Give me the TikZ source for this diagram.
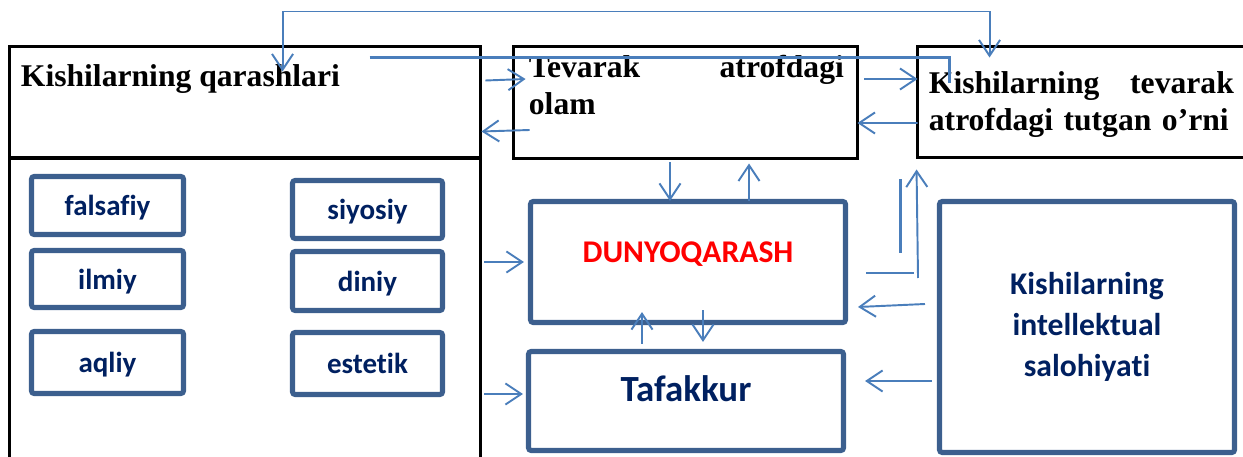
\documentclass[tikz,border=0pt]{standalone}
\usepackage{fontspec}
\setmainfont{Liberation Serif}
\newfontfamily\calibri[Ligatures=NoCommon]{Carlito}
\usetikzlibrary{arrows.meta,calc,positioning}

\definecolor{boxblue}{HTML}{3C5F8E}
\definecolor{linkblue}{HTML}{4A7EBB}
\definecolor{navy}{HTML}{002060}

\tikzset{
  >={Straight Barb[length=9pt,width=12pt]},
  frame/.style={draw=black, line width=1.7pt, inner sep=0pt},
  title/.style={inner sep=0pt, font=\bfseries\fontsize{18}{21}\selectfont, align=left},
  kind/.style={draw=boxblue, line width=2.9pt, rounded corners=1.5pt, inner sep=0pt,
    text=navy, font=\calibri\bfseries\fontsize{16.5}{20}\selectfont,
    text height=12.5pt, text depth=1pt},
  bluebox/.style={draw=boxblue, line width=2.9pt, rounded corners=1.5pt, inner sep=0pt,
    text=navy, font=\calibri\bfseries},
  link/.style={draw=linkblue, line width=1.1pt, ->},
  bar/.style={draw=linkblue, line width=1.6pt},
}

\begin{document}
\begin{tikzpicture}[x=0.02cm, y=-0.02cm]
		\useasboundingbox (0,0) rectangle (1243,456);
		\clip (0,0) rectangle (1243,456);
		
		% Black frames
		\node[frame, minimum width=9.44cm, minimum height=2.24cm] (qarash) at (245,102) {};
		\node[frame, minimum width=9.44cm, minimum height=6.84cm] (turlar) at (245,329) {};
		\node[frame, minimum width=6.9cm, minimum height=2.26cm] (olam) at (685.5,102.5) {};
		\node[frame, minimum width=7.26cm, minimum height=2.24cm] (orni) at (1098.5,102) {};
		
		% Frame titles
		\node[title, anchor=north west] (qarashtext) at ($(qarash.north west)+(13,20)$) {Kishilarning qarashlari};
		\node[title, anchor=north west, text width=6.3cm] (olamtext) at ($(olam.north west)+(17,10)$) {Tevarak\hfill atrofdagi\\olam};
		\node[title, anchor=north west, text width=6.1cm] (ornitext) at ($(orni.north west)+(13,27)$) {Kishilarning\hfill tevarak\\atrofdagi tutgan o’rni};
		
		% Kinds of views
		\node[kind, minimum width=3.04cm, minimum height=1.16cm] (falsafiy) at (107.5,205.5) {falsafiy};
		\node[kind, minimum width=3.04cm, minimum height=1.14cm] (ilmiy) at (107.5,279) {ilmiy};
		\node[kind, minimum width=3.04cm, minimum height=1.24cm] (aqliy) at (107.5,362.5) {aqliy};
		\node[kind, minimum width=3.0cm, minimum height=1.16cm] (siyosiy) at (367.5,209.5) {siyosiy};
		\node[kind, minimum width=3.0cm, minimum height=1.18cm] (diniy) at (367.5,281) {diniy};
		\node[kind, minimum width=3.0cm, minimum height=1.24cm] (estetik) at (367.5,363.5) {estetik};
		
		% Blue boxes
		\node[bluebox, minimum width=6.3cm, minimum height=2.42cm, text=red,
		      font=\calibri\bfseries\fontsize{18}{22}\selectfont, text height=12pt, text depth=12pt] (dunyo) at (688,262) {DUNYOQARASH};
		\node[bluebox, minimum width=6.3cm, minimum height=1.98cm,
		      font=\calibri\bfseries\fontsize{21}{25}\selectfont, text height=14pt, text depth=14pt] (tafakkur) at (686,401) {Tafakkur};
		\node[bluebox, minimum width=5.9cm, minimum height=5.02cm, align=center,
		      font=\calibri\bfseries\fontsize{18}{23.3}\selectfont] (salohiyat) at (1087,327) {Kishilarning\\intellektual\\salohiyati};
		
		% Connectors between frames
		\draw[link] ($(qarash.east)+(3,-21.5)$) -- ($(olam.west)+(14,-23.5)$);
		\draw[link] ($(olam.west)+(18,27.5)$) -- ($(qarash.east)+(-1,29.5)$);
		\draw[link] ($(olam.east)+(5,-23.5)$) -- ($(orni.west)+(2,-23)$);
		\draw[link] ($(orni.west)+(2,21)$) -- ($(olam.east)+(-2,20.5)$);
		\draw[link, <->] ($(qarash.north west)+(275,27)$) -- ++(0,-60) -| ($(orni.north west)+(74,13)$);
		\draw[bar] ($(qarash.north west)+(362,13)$) -| ($(orni.north west)+(34,38)$);
		
		% Connectors around DUNYOQARASH
		\draw[link] ($(olam.south)+(-15.5,2)$) -- ($(dunyo.north)+(-18,2)$);
		\draw[link] ($(dunyo.north)+(61,2)$) -- ($(olam.south)+(63.5,3)$);
		\draw[link] ($(turlar.east)+(2,-67)$) -- ($(dunyo.west)+(-4,0)$);
		\draw[link] ($(turlar.east)+(2,65)$) -- ($(tafakkur.west)+(-3,-7)$);
		\draw[link] ($(tafakkur.north)+(-44,-5)$) -- ($(dunyo.south)+(-46,-13)$);
		\draw[link] ($(dunyo.south)+(15,-15)$) -- ($(tafakkur.north)+(17,-7)$);
		\draw[link] ($(salohiyat.west)+(-12,-23)$) -- ($(dunyo.east)+(10,45)$);
		\draw[link] ($(salohiyat.west)+(-5,54)$) -- ($(tafakkur.east)+(19,-20)$);
		\draw[bar] ($(dunyo.east)+(18,11)$) -- ++(48,0);
		\draw[link] ($(dunyo.east)+(70,16)$) -- ($(orni.south west)+(1,10)$);
		\draw[bar] ($(orni.south west)+(-15,20)$) -- ++(0,74);
		
	\end{tikzpicture}
\end{document}
